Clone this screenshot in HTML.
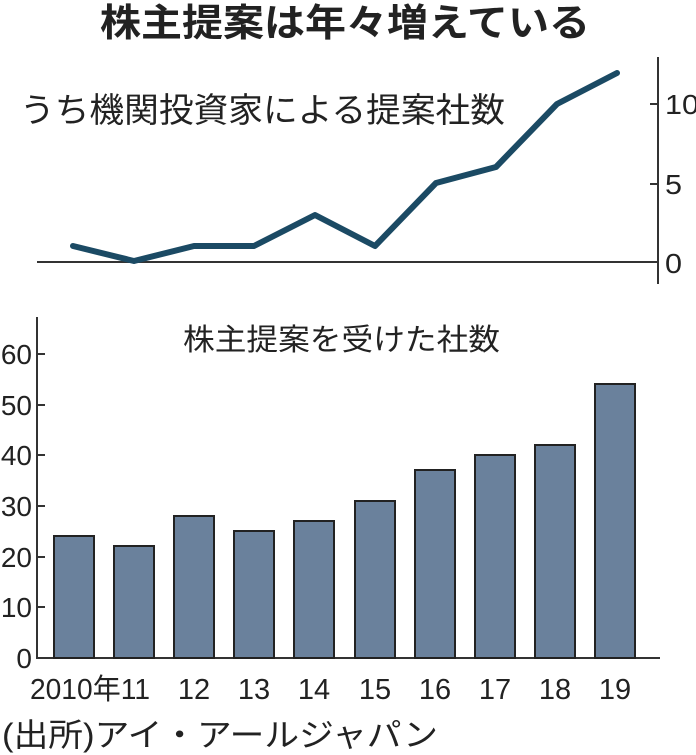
<!DOCTYPE html>
<html><head><meta charset="utf-8"><style>
html,body{margin:0;padding:0;background:#fff;}
svg{display:block;}
text{font-family:"Liberation Sans","Noto Sans CJK JP",sans-serif;fill:#222;}
</style></head><body>
<svg width="696" height="755" viewBox="0 0 696 755" xmlns="http://www.w3.org/2000/svg">
<text x="100" y="36" font-size="38" font-weight="bold" textLength="490" lengthAdjust="spacingAndGlyphs">株主提案は年々増えている</text>
<text x="20" y="122" font-size="34" textLength="485" lengthAdjust="spacingAndGlyphs">うち機関投資家による提案社数</text>
<!-- top chart -->
<line x1="37" y1="262" x2="658" y2="262" stroke="#333" stroke-width="2"/>
<line x1="658" y1="57" x2="658" y2="284" stroke="#333" stroke-width="2"/>
<line x1="650" y1="104" x2="658" y2="104" stroke="#333" stroke-width="2"/>
<line x1="650" y1="184" x2="658" y2="184" stroke="#333" stroke-width="2"/>
<g font-size="28"><text x="665" y="114" textLength="34" lengthAdjust="spacingAndGlyphs">10</text><text x="665" y="194" textLength="17" lengthAdjust="spacingAndGlyphs">5</text><text x="665" y="273" textLength="17" lengthAdjust="spacingAndGlyphs">0</text></g>
<polyline points="73,246 134,261 194,246 254,246 315,215 375,246 436,183 496,167 557,104 617,73" fill="none" stroke="#1b4a64" stroke-width="6" stroke-linejoin="round" stroke-linecap="round"/>
<!-- bottom chart -->
<text x="183" y="350" font-size="30" textLength="317" lengthAdjust="spacingAndGlyphs">株主提案を受けた社数</text>
<line x1="37" y1="317" x2="37" y2="658" stroke="#333" stroke-width="2"/>
<line x1="36" y1="658" x2="660" y2="658" stroke="#333" stroke-width="2"/>
<g stroke="#333" stroke-width="2">
<line x1="37" y1="354" x2="45" y2="354"/><line x1="37" y1="405" x2="45" y2="405"/><line x1="37" y1="455" x2="45" y2="455"/><line x1="37" y1="506" x2="45" y2="506"/><line x1="37" y1="557" x2="45" y2="557"/><line x1="37" y1="607" x2="45" y2="607"/>
</g>
<g font-size="28" text-anchor="end">
<text x="32" y="364">60</text><text x="32" y="415">50</text><text x="32" y="465">40</text><text x="32" y="516">30</text><text x="32" y="567">20</text><text x="32" y="617">10</text><text x="32" y="668">0</text>
</g>
<g fill="#6a819c" stroke="#222" stroke-width="2">
<rect x="54" y="536" width="40" height="122"/>
<rect x="114" y="546" width="40" height="112"/>
<rect x="174" y="516" width="40" height="142"/>
<rect x="234" y="531" width="40" height="127"/>
<rect x="294" y="521" width="40" height="137"/>
<rect x="355" y="501" width="40" height="157"/>
<rect x="415" y="470" width="40" height="188"/>
<rect x="475" y="455" width="40" height="203"/>
<rect x="535" y="445" width="40" height="213"/>
<rect x="595" y="384" width="40" height="274"/>
</g>
<g font-size="29" text-anchor="middle">
<text x="90" y="699" textLength="120" lengthAdjust="spacingAndGlyphs">2010年11</text>
<text x="194" y="699">12</text><text x="254" y="699">13</text><text x="314" y="699">14</text><text x="375" y="699">15</text><text x="435" y="699">16</text><text x="495" y="699">17</text><text x="555" y="699">18</text><text x="615" y="699">19</text>
</g>
<text x="2" y="746" font-size="32" textLength="436" lengthAdjust="spacingAndGlyphs">(出所)アイ・アールジャパン</text>
</svg>
</body></html>
